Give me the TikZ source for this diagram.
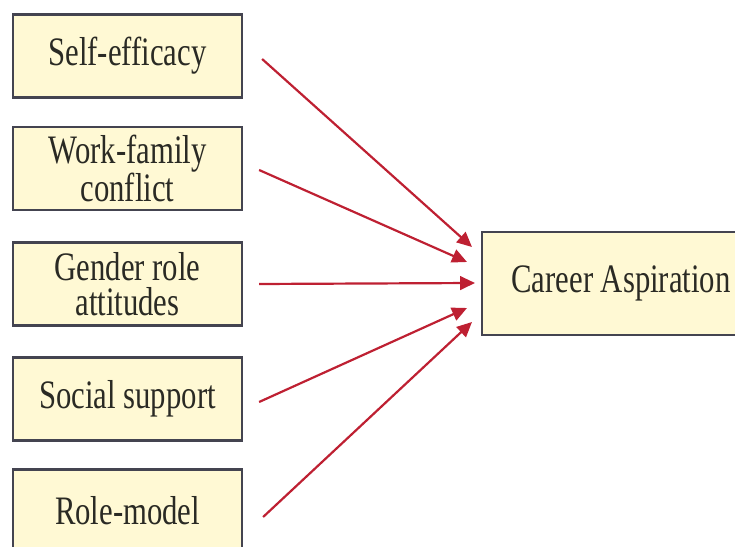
\documentclass[tikz,border=0pt]{standalone}
\usepackage{fontspec}
\setmainfont{Liberation Serif}[FakeStretch=0.76]
\usetikzlibrary{arrows.meta}
\definecolor{boxfill}{RGB}{255,249,212}
\definecolor{boxline}{RGB}{68,68,80}
\definecolor{boxtext}{RGB}{42,42,36}
\definecolor{arrowred}{RGB}{190,32,50}
\tikzset{
  factor/.style={draw=boxline, line width=1.3pt, fill=boxfill, text=boxtext,
    minimum width=4.58cm, minimum height=1.66cm, align=center, inner sep=0pt,
    font=\fontsize{23}{20}\selectfont},
  outcome/.style={factor, minimum width=5.56cm, minimum height=2.06cm},
  influence/.style={draw=arrowred, line width=1.25pt,
    -{Triangle[length=8.5pt,width=7.8pt]}}
}
\begin{document}
\begin{tikzpicture}[x=0.02cm, y=-0.02cm]
    \useasboundingbox (0,0) rectangle (735,547);
    
    \node[factor] (self) at (127.5,56) {Self-efficacy};
    \node[factor] (work) at (127.5,168.5) {Work-family\\conflict};
    \node[factor] (gender) at (127.5,284) {Gender role\\attitudes};
    \node[factor] (social) at (127.5,399) {Social support};
    \node[factor] (model) at (127.5,511) {Role-model};
    
    \node[outcome] (career) at (621,283.5) {Career Aspiration};
    
    \coordinate (t1) at (472,247);
    \coordinate (t2) at (467,262);
    \coordinate (t3) at (475,283);
    \coordinate (t4) at (467,308);
    \coordinate (t5) at (472,322);
    
    \draw[influence] ([shift={(0.38cm,-0.06cm)}]self.east) -- (t1);
    \draw[influence] ([shift={(0.32cm,-0.03cm)}]work.east) -- (t2);
    \draw[influence] ([xshift=0.32cm]gender.east) -- (t3);
    \draw[influence] ([shift={(0.32cm,-0.06cm)}]social.east) -- (t4);
    \draw[influence] ([shift={(0.4cm,-0.12cm)}]model.east) -- (t5);
    
\end{tikzpicture}
\end{document}
